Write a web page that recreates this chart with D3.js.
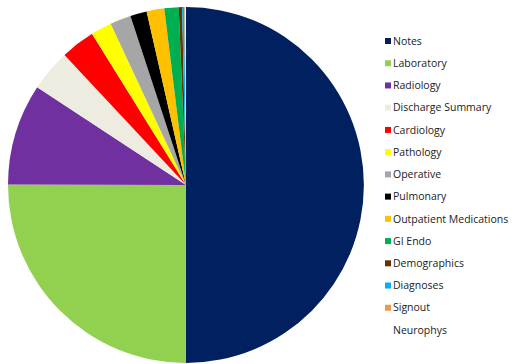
<!DOCTYPE html>
<html><head><meta charset="utf-8">
<script src="https://cdn.jsdelivr.net/npm/d3@7"></script>
<style>body{margin:0;background:#fff;}</style>
</head><body>
<svg id="chart" width="513" height="364"></svg>
<script>
const categories = ["Notes","Laboratory","Radiology","Discharge Summary","Cardiology","Pathology","Operative","Pulmonary","Outpatient Medications","GI Endo","Demographics","Diagnoses","Signout","Neurophys"];
const values = [50.0, 25.0, 9.2, 3.8, 3.1, 1.9, 1.9, 1.5, 1.6, 1.3, 0.3, 0.2, 0.1, 0.05];
const colors = ["#002060","#92D050","#7030A0","#EEECE1","#FF0000","#FFFF00","#A6A6A6","#000000","#FFC000","#00B050","#663300","#00B0F0","#F79646","#FFFFFF"];

const svg = d3.select("#chart");
const cx = 186, cy = 185, r = 178;
const data = categories.map((c,i)=>({name:c, value:values[i], color:colors[i]}));
const pie = d3.pie().value(d=>d.value).sort(null);
const arc = d3.arc().innerRadius(0).outerRadius(r);
const g = svg.append("g").attr("transform",`translate(${cx},${cy})`);
g.selectAll("path").data(pie(data)).join("path")
  .attr("d", arc).attr("fill", d=>d.data.color);

const legendY = d3.scalePoint().domain(categories).range([41, 330]);
const lg = svg.append("g");
const items = lg.selectAll("g").data(data).join("g")
  .attr("transform", d=>`translate(385,${legendY(d.name)})`);
items.append("rect").attr("x",0).attr("y",-3).attr("width",6).attr("height",6)
  .attr("fill", d=>d.color);
items.append("text").attr("x",8).attr("y",0).attr("dy","0.35em")
  .attr("font-family","'Open Sans', 'Liberation Sans', sans-serif").attr("font-size","10.5px")
  .attr("fill","#222").text(d=>d.name);
</script>
</body></html>
